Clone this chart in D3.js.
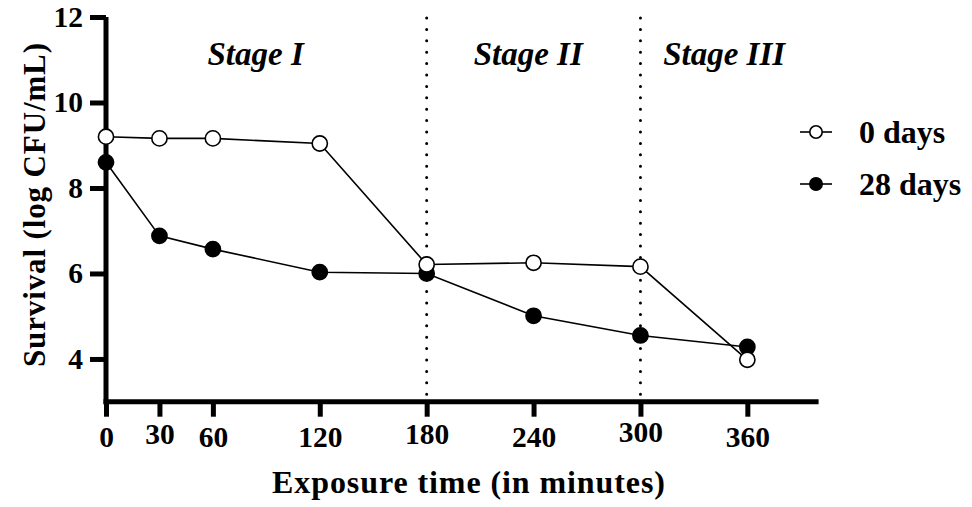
<!DOCTYPE html>
<html>
<head>
<meta charset="utf-8">
<title>Survival vs exposure time</title>
<script src="https://cdn.jsdelivr.net/npm/d3@7"></script>
<style>
  body { margin: 0; background: #fff; }
  svg text { font-family: "Liberation Serif", "Times New Roman", serif; font-weight: bold; fill: #000; }
</style>
</head>
<body>
<svg id="chart" width="972" height="507"></svg>
<script>
// data
var times = [0, 30, 60, 120, 180, 240, 300, 360];
var days0 = [9.20, 9.16, 9.16, 9.04, 6.21, 6.25, 6.16, 3.98];
var days28 = [8.60, 6.88, 6.57, 6.03, 6.00, 5.01, 4.55, 4.28];
var seriesNames = ["0 days", "28 days"];
var xTicks = [0, 30, 60, 120, 180, 240, 300, 360];
var yTicks = [4, 6, 8, 10, 12];
var stageNames = ["Stage I", "Stage II", "Stage III"];
var stageCenters = [84, 237, 347];   // minutes
var stageBounds = [180, 300];

var svg = d3.select("#chart");

var x = d3.scaleLinear().domain([0, 400]).range([106, 818.6]);
var y = d3.scaleLinear().domain([3, 12]).range([401.7, 17]);

// little lifts GraphPad gave some tick labels
var tickLift = {30: 3, 180: 3, 300: 5};

// stage separators
svg.selectAll(".stage-line").data(stageBounds).enter().append("line")
  .attr("x1", function(d) { return x(d); })
  .attr("x2", function(d) { return x(d); })
  .attr("y1", y(12) + 1)
  .attr("y2", y(3))
  .attr("stroke", "#000")
  .attr("stroke-width", 3)
  .attr("stroke-linecap", "round")
  .attr("stroke-dasharray", "0,11.4");

svg.selectAll(".stage").data(stageNames).enter().append("text")
  .attr("x", function(d, i) { return x(stageCenters[i]); })
  .attr("y", 65)
  .attr("text-anchor", "middle")
  .style("font-style", "italic")
  .style("font-size", "33px")
  .text(function(d) { return d; });

// axes
var xAxis = svg.append("g").attr("transform", "translate(0," + y(3) + ")")
  .call(d3.axisBottom(x).tickValues(xTicks).tickSize(15).tickPadding(9).tickSizeOuter(0));
var yAxis = svg.append("g").attr("transform", "translate(" + x(0) + ",0)")
  .call(d3.axisLeft(y).tickValues(yTicks).tickSize(16).tickPadding(7).tickSizeOuter(0));

[xAxis, yAxis].forEach(function(a) {
  a.select(".domain").attr("stroke", "#000").attr("stroke-width", 5);
  a.selectAll(".tick line").attr("stroke", "#000").attr("stroke-width", 5);
  a.selectAll("text").attr("font-family", null).style("font-size", "29.5px").attr("fill", "#000");
});
// pull the x axis line a bit left so it meets the y axis corner
xAxis.select(".domain").attr("d", "M" + (x(0) - 2.5) + ",0H" + x(400));
yAxis.select(".domain").attr("d", "M0," + y(12) + "V" + (y(3) + 2.5));
xAxis.selectAll(".tick text").attr("dy", function(d) { return (0.71 - (tickLift[d] || 0) / 29.5) + "em"; });

// lines and markers
var line = d3.line().x(function(d) { return x(d[0]); }).y(function(d) { return y(d[1]); });
var series = [
  { name: seriesNames[0], values: d3.zip(times, days0), fill: "#fff" },
  { name: seriesNames[1], values: d3.zip(times, days28), fill: "#000" }
];

// draw 28 days first so the open circles sit on top where they meet
[series[1], series[0]].forEach(function(s) {
  svg.append("path").datum(s.values)
    .attr("d", line)
    .attr("fill", "none")
    .attr("stroke", "#000")
    .attr("stroke-width", 1.6);
});
[series[1], series[0]].forEach(function(s) {
  svg.selectAll(null).data(s.values).enter().append("circle")
    .attr("cx", function(d) { return x(d[0]); })
    .attr("cy", function(d) { return y(d[1]); })
    .attr("r", 7.6)
    .attr("fill", s.fill)
    .attr("stroke", "#000")
    .attr("stroke-width", 1.6);
});

// legend
var legend = svg.selectAll(".legend").data(series).enter().append("g")
  .attr("transform", function(d, i) { return "translate(800," + (132 + i * 52) + ")"; });
legend.append("line").attr("x1", 0).attr("x2", 32).attr("stroke", "#000").attr("stroke-width", 1.6);
legend.append("circle").attr("cx", 16).attr("r", 6.2)
  .attr("fill", function(d) { return d.fill; })
  .attr("stroke", "#000").attr("stroke-width", 1.6);
legend.append("text").attr("x", 59).attr("y", 11)
  .style("font-size", "32px")
  .text(function(d) { return d.name; });

// axis titles
svg.append("text")
  .attr("x", 468.5).attr("y", 493)
  .attr("text-anchor", "middle")
  .style("font-size", "32px")
  .attr("textLength", 393)
  .attr("lengthAdjust", "spacing")
  .text("Exposure time (in minutes)");

svg.append("text")
  .attr("transform", "translate(45,205) rotate(-90)")
  .attr("text-anchor", "middle")
  .style("font-size", "31px")
  .attr("textLength", 324)
  .attr("lengthAdjust", "spacing")
  .text("Survival (log CFU/mL)");
</script>
</body>
</html>
